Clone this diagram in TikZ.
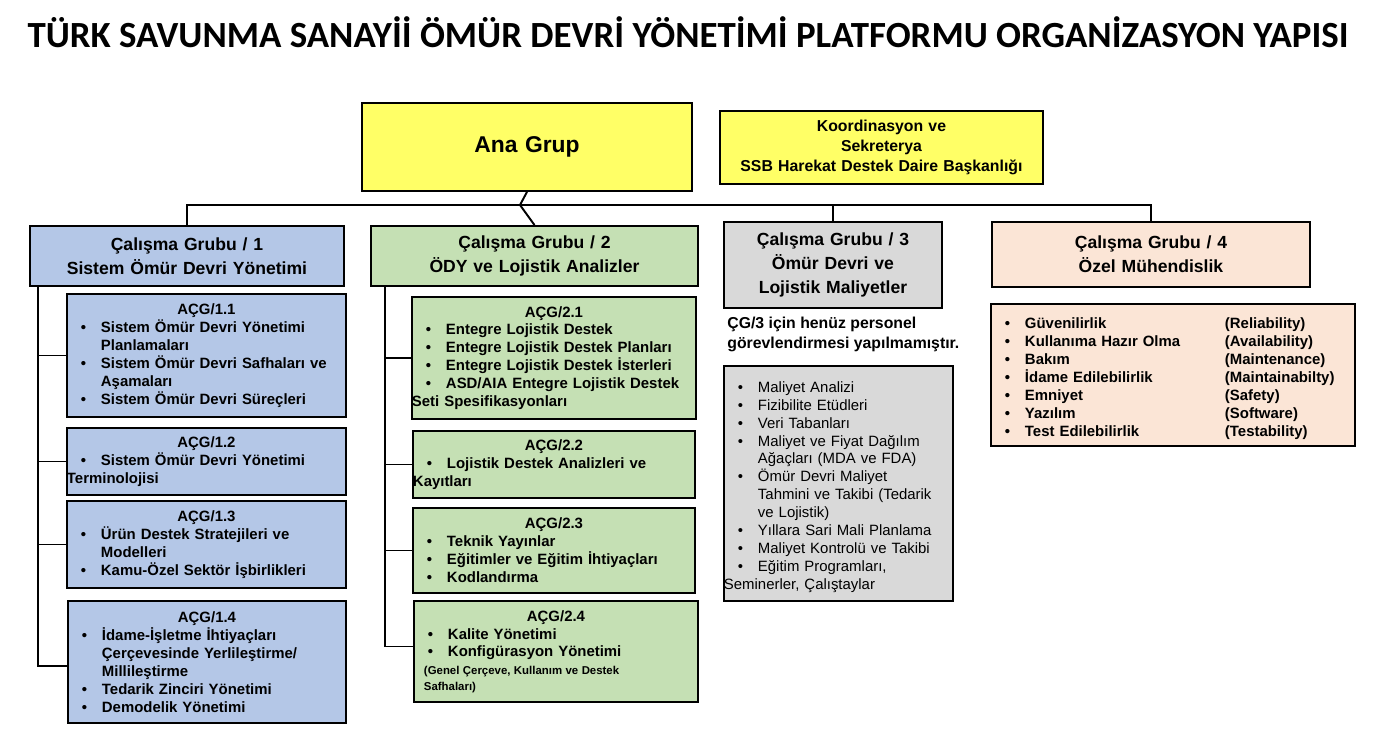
\documentclass[tikz,border=0pt]{standalone}
\usepackage{fontspec}
\setmainfont{Liberation Sans}
\newfontfamily\titlefont{Carlito}
\usetikzlibrary{positioning}

\newlength\pxu
\setlength\pxu{0.02cm}
\definecolor{anayellow}{HTML}{FFFF66}
\definecolor{grpblue}{HTML}{B4C7E7}
\definecolor{grpgreen}{HTML}{C5E0B4}
\definecolor{grpgrey}{HTML}{D9D9D9}
\definecolor{grppeach}{HTML}{FBE5D6}
\newcommand\itm[1]{\par\noindent\hangindent=34\pxu\hangafter=1\hbox to 34\pxu{\hskip14\pxu\textbullet\hfil}#1}
\newcommand\hdr[1]{{\centering #1\par}}

\tikzset{
  bx/.style n args={2}{draw, line width=1.1pt, anchor=north west, inner xsep=0pt, inner ysep=2\pxu,
    minimum width=#1\pxu, minimum height=#2\pxu, text width=#1\pxu},
  grp/.style={align=center, font=\bfseries\fontsize{10}{13.6}\selectfont},
  lst/.style={align=left, font=\bfseries\fontsize{8.5}{10.2}\selectfont},
  link/.style={line width=1.1pt}
}

\begin{document}
\begin{tikzpicture}[x=0.02cm, y=-0.02cm]
  \useasboundingbox (0,0) rectangle (1376,734);

  % Title
  \node[font=\titlefont\bfseries\fontsize{21}{24}\selectfont] (title) at (688,32) {TÜRK SAVUNMA SANAYİİ ÖMÜR DEVRİ YÖNETİMİ PLATFORMU ORGANİZASYON YAPISI};

  % Top
  \node[bx={330}{88}, fill=anayellow, align=center, font=\bfseries\fontsize{13}{15}\selectfont] (ana) at (361,102) {Ana Grup};
  \node[bx={323}{73}, fill=anayellow, align=center, font=\bfseries\fontsize{9}{11.3}\selectfont] (koord) at (719,110) {Koordinasyon ve\\Sekreterya\\SSB Harekat Destek Daire Başkanlığı};

  % Working groups
  \node[bx={314}{60}, fill=grpblue, grp] (cg1) at (29,225) {Çalışma Grubu / 1\\Sistem Ömür Devri Yönetimi};
  \node[bx={327}{60}, fill=grpgreen, grp] (cg2) at (370,225) {Çalışma Grubu / 2\\ÖDY ve Lojistik Analizler};
  \node[bx={218}{86}, fill=grpgrey, grp] (cg3) at (723,221) {Çalışma Grubu / 3\\Ömür Devri ve\\Lojistik Maliyetler};
  \node[bx={318}{65}, fill=grppeach, grp] (cg4) at (991,221) {Çalışma Grubu / 4\\Özel Mühendislik};

  % Bus
  \coordinate (bus) at (520,205);
  \draw[link] (ana.south) -- (bus);
  \draw[link] (cg1.north) |- (bus) -| (cg4.north);
  \draw[link] (cg2.north) -- (bus);
  \draw[link] (cg3.north) |- (bus);

  % CG1 sub groups
  \node[bx={279}{123}, fill=grpblue, lst] (a11) at (66,293) {\hdr{AÇG/1.1}\itm{Sistem Ömür Devri Yönetimi\newline Planlamaları}\itm{Sistem Ömür Devri Safhaları ve\newline Aşamaları}\itm{Sistem Ömür Devri Süreçleri}};
  \node[bx={279}{67}, fill=grpblue, lst] (a12) at (66,427) {\hdr{AÇG/1.2}\itm{Sistem Ömür Devri Yönetimi\newline Terminolojisi}};
  \node[bx={279}{87}, fill=grpblue, lst] (a13) at (66,500) {\hdr{AÇG/1.3}\itm{Ürün Destek Stratejileri ve\newline Modelleri}\itm{Kamu-Özel Sektör İşbirlikleri}};
  \node[bx={278}{122}, fill=grpblue, lst] (a14) at (67,600) {\hdr{AÇG/1.4}\itm{İdame-İşletme İhtiyaçları\newline Çerçevesinde Yerlileştirme/\newline Millileştirme}\itm{Tedarik Zinciri Yönetimi}\itm{Demodelik Yönetimi}};

  \coordinate (sp1) at (38,285);
  \draw[link] (sp1) |- ([yshift=-4\pxu]a14.west);
  \draw[link] (sp1 |- a11.west) -- (a11.west);
  \draw[link] (sp1 |- a12.west) -- (a12.west);
  \draw[link] (sp1 |- a13.west) -- (a13.west);

  % CG2 sub groups
  \node[bx={284}{122}, fill=grpgreen, lst] (a21) at (411,296) {\hdr{AÇG/2.1}\itm{Entegre Lojistik Destek}\itm{Entegre Lojistik Destek Planları}\itm{Entegre Lojistik Destek İsterleri}\itm{ASD/AIA Entegre Lojistik Destek\newline Seti Spesifikasyonları}};
  \node[bx={282}{67}, fill=grpgreen, lst] (a22) at (412,430) {\hdr{AÇG/2.2}\itm{Lojistik Destek Analizleri ve\newline Kayıtları}};
  \node[bx={282}{85}, fill=grpgreen, lst] (a23) at (412,507) {\hdr{AÇG/2.3}\itm{Teknik Yayınlar}\itm{Eğitimler ve Eğitim İhtiyaçları}\itm{Kodlandırma}};
  \node[bx={284}{101}, fill=grpgreen, lst] (a24) at (413,600) {\hdr{AÇG/2.4}\itm{Kalite Yönetimi}\itm{Konfigürasyon Yönetimi}\par\vspace{1pt}{\fontsize{6.5}{9}\selectfont\leftskip=10\pxu\rightskip=10\pxu\spaceskip=0.3em plus 3em
  \noindent(Genel Çerçeve, Kullanım ve Destek\par\noindent Safhaları)\par}};

  \coordinate (sp2) at (385,285);
  \draw[link] (sp2) |- ([yshift=5\pxu]a24.west);
  \draw[link] (sp2 |- a21.west) -- (a21.west);
  \draw[link] (sp2 |- a22.west) -- (a22.west);
  \draw[link] (sp2 |- a23.west) -- (a23.west);

  % CG3 note and list
  \node[anchor=north west, align=left, inner sep=0pt, font=\bfseries\fontsize{9}{11.3}\selectfont] (note3) at (727,317) {ÇG/3 için henüz personel\\görevlendirmesi yapılmamıştır.};
  \node[bx={229}{235}, fill=grpgrey, align=left, font=\fontsize{8.5}{10.2}\selectfont] (l3) at (723,365) {\itm{Maliyet Analizi}\itm{Fizibilite Etüdleri}\itm{Veri Tabanları}\itm{Maliyet ve Fiyat Dağılım\newline Ağaçları (MDA ve FDA)}\itm{Ömür Devri Maliyet\newline Tahmini ve Takibi (Tedarik\newline ve Lojistik)}\itm{Yıllara Sari Mali Planlama}\itm{Maliyet Kontrolü ve Takibi}\itm{Eğitim Programları,\newline Seminerler, Çalıştaylar}};

  % CG4 list
  \node[bx={364}{142}, fill=grppeach, lst] (l4) at (990,303) {\itm{\makebox[200\pxu][l]{Güvenilirlik}(Reliability)}\itm{\makebox[200\pxu][l]{Kullanıma Hazır Olma}(Availability)}\itm{\makebox[200\pxu][l]{Bakım}(Maintenance)}\itm{\makebox[200\pxu][l]{İdame Edilebilirlik}(Maintainabilty)}\itm{\makebox[200\pxu][l]{Emniyet}(Safety)}\itm{\makebox[200\pxu][l]{Yazılım}(Software)}\itm{\makebox[200\pxu][l]{Test Edilebilirlik}(Testability)}};
\end{tikzpicture}
\end{document}
